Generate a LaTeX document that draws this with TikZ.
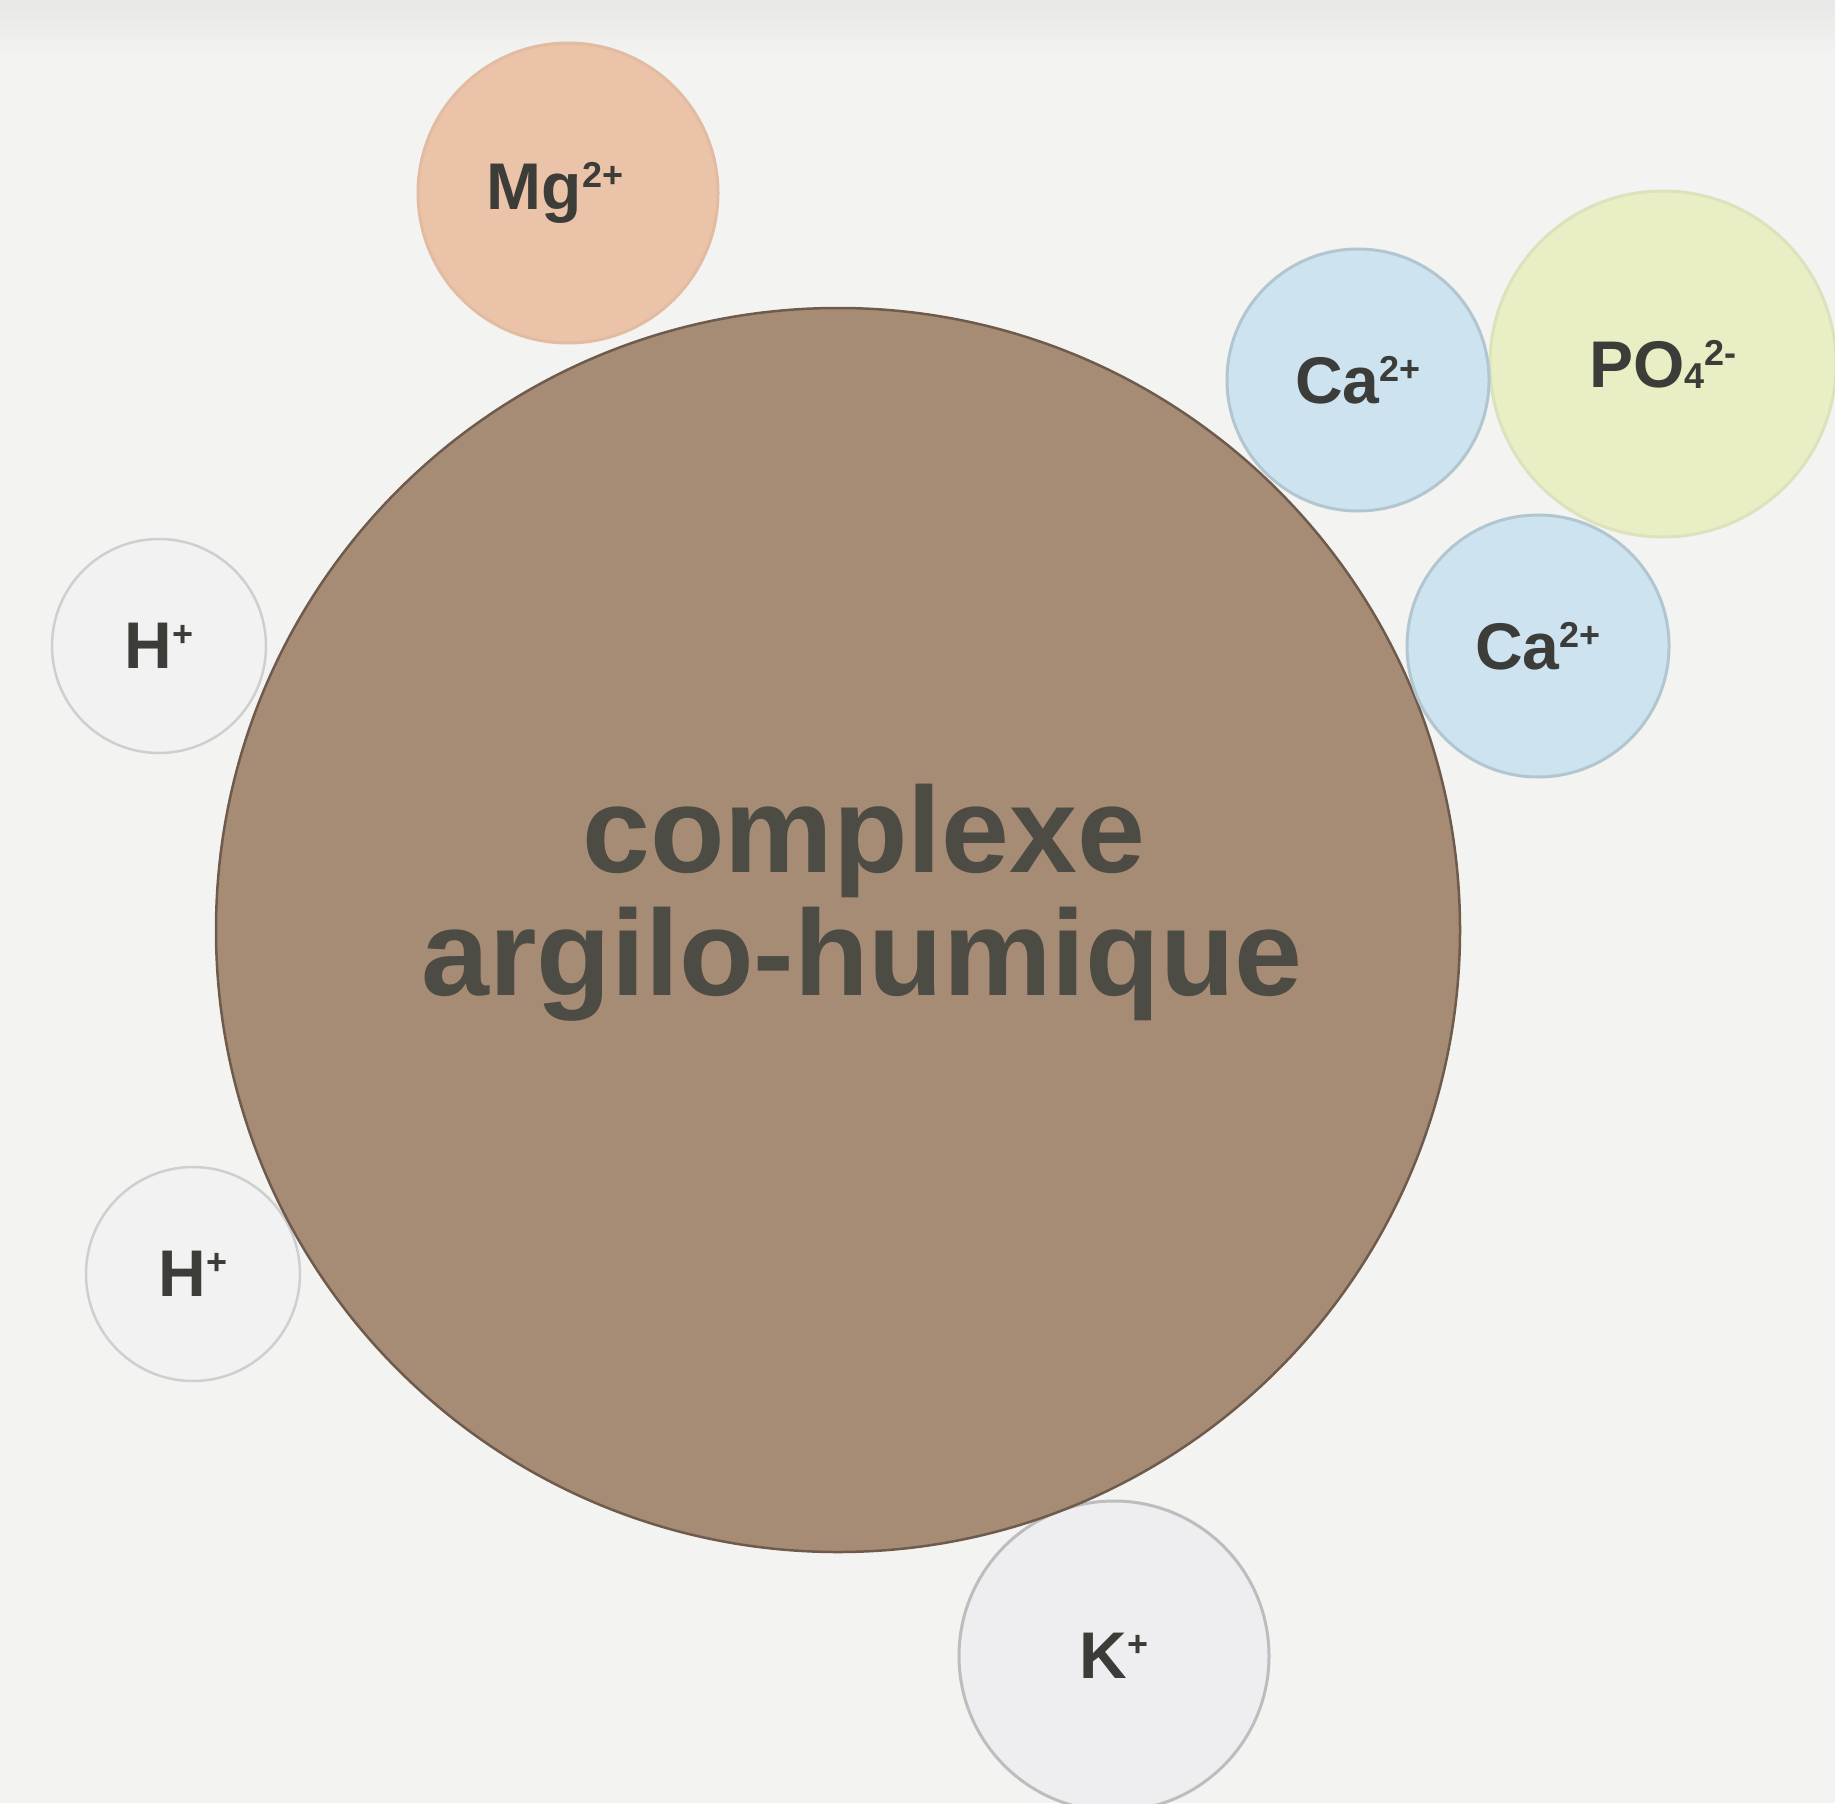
\documentclass[tikz,border=0pt]{standalone}
\usepackage{fontspec}
\setmainfont{Liberation Sans}
% small raised charge and small lowered index for ion formulas
\newcommand{\ioncharge}[1]{\raisebox{22pt}{\fontsize{36}{36}\selectfont #1}}
\newcommand{\ionindex}[1]{\raisebox{-1pt}{\fontsize{36}{36}\selectfont #1}}
\begin{document}
\begin{tikzpicture}[x=1pt,y=-1pt,
  ion/.style={circle,inner sep=0pt,line width=3pt,text=ionText,
    font=\fontsize{66}{66}\selectfont\bfseries},
  core/.style={circle,inner sep=0pt,line width=2.5pt,fill=coreFill,draw=coreEdge},
  coretext/.style={anchor=base,inner sep=0pt,text=coreText,
    font=\fontsize{122}{122}\selectfont\bfseries}]
\definecolor{paper}{HTML}{F3F3F1}
\definecolor{paperTop}{HTML}{E8E8E6}
\definecolor{coreFill}{HTML}{A68C75}
\definecolor{coreEdge}{HTML}{6E5B4C}
\definecolor{coreText}{HTML}{4C4B44}
\definecolor{ionText}{HTML}{3C3C38}
\definecolor{mgFill}{HTML}{EBC3A8}
\definecolor{mgEdge}{HTML}{E2BBA1}
\definecolor{caFill}{HTML}{CDE3F0}
\definecolor{caEdge}{HTML}{B2C6D0}
\definecolor{poFill}{HTML}{E9EEC4}
\definecolor{poEdge}{HTML}{DCE2BC}
\definecolor{hFill}{HTML}{F2F2F2}
\definecolor{hEdge}{HTML}{CFCFCF}
\definecolor{kFill}{HTML}{EEEEF0}
\definecolor{kEdge}{HTML}{BDBDBD}

% page background
\useasboundingbox (0,0) rectangle (1835,1803);
\fill[paper] (0,0) rectangle (1835,1803);
\shade[top color=paperTop,bottom color=paper] (0,0) rectangle (1835,60);

% exchangeable ions lying under the complex
\node[ion,fill=mgFill,draw=mgEdge,minimum size=300pt] (mg) at (568,193) {Mg\ioncharge{2+}\kern26pt};
\node[ion,fill=hFill,draw=hEdge,line width=2.5pt,minimum size=214pt] (h1) at (159,646) {H\ioncharge{+}};
\node[ion,fill=hFill,draw=hEdge,line width=2.5pt,minimum size=214pt] (h2) at (193,1274) {H\ioncharge{+}};
\node[ion,fill=kFill,draw=kEdge,minimum size=310pt] (k) at (1114,1656) {K\ioncharge{+}};

% the clay-humus complex
\node[core,minimum size=1244pt] (core) at (838,930) {};
\node[coretext] (cplx1) at (864,872) {complexe};
\node[coretext] (cplx2) at (862,995) {argilo-humique};

% ions lying over the complex
\node[ion,fill=poFill,draw=poEdge,minimum size=346pt] (po) at (1663,364) {PO\ionindex{4}\ioncharge{2-}};
\node[ion,fill=caFill,draw=caEdge,minimum size=262pt] (ca1) at (1358,380) {Ca\ioncharge{2+}};
\node[ion,fill=caFill,draw=caEdge,minimum size=262pt] (ca2) at (1538,646) {Ca\ioncharge{2+}};
\end{tikzpicture}
\end{document}
